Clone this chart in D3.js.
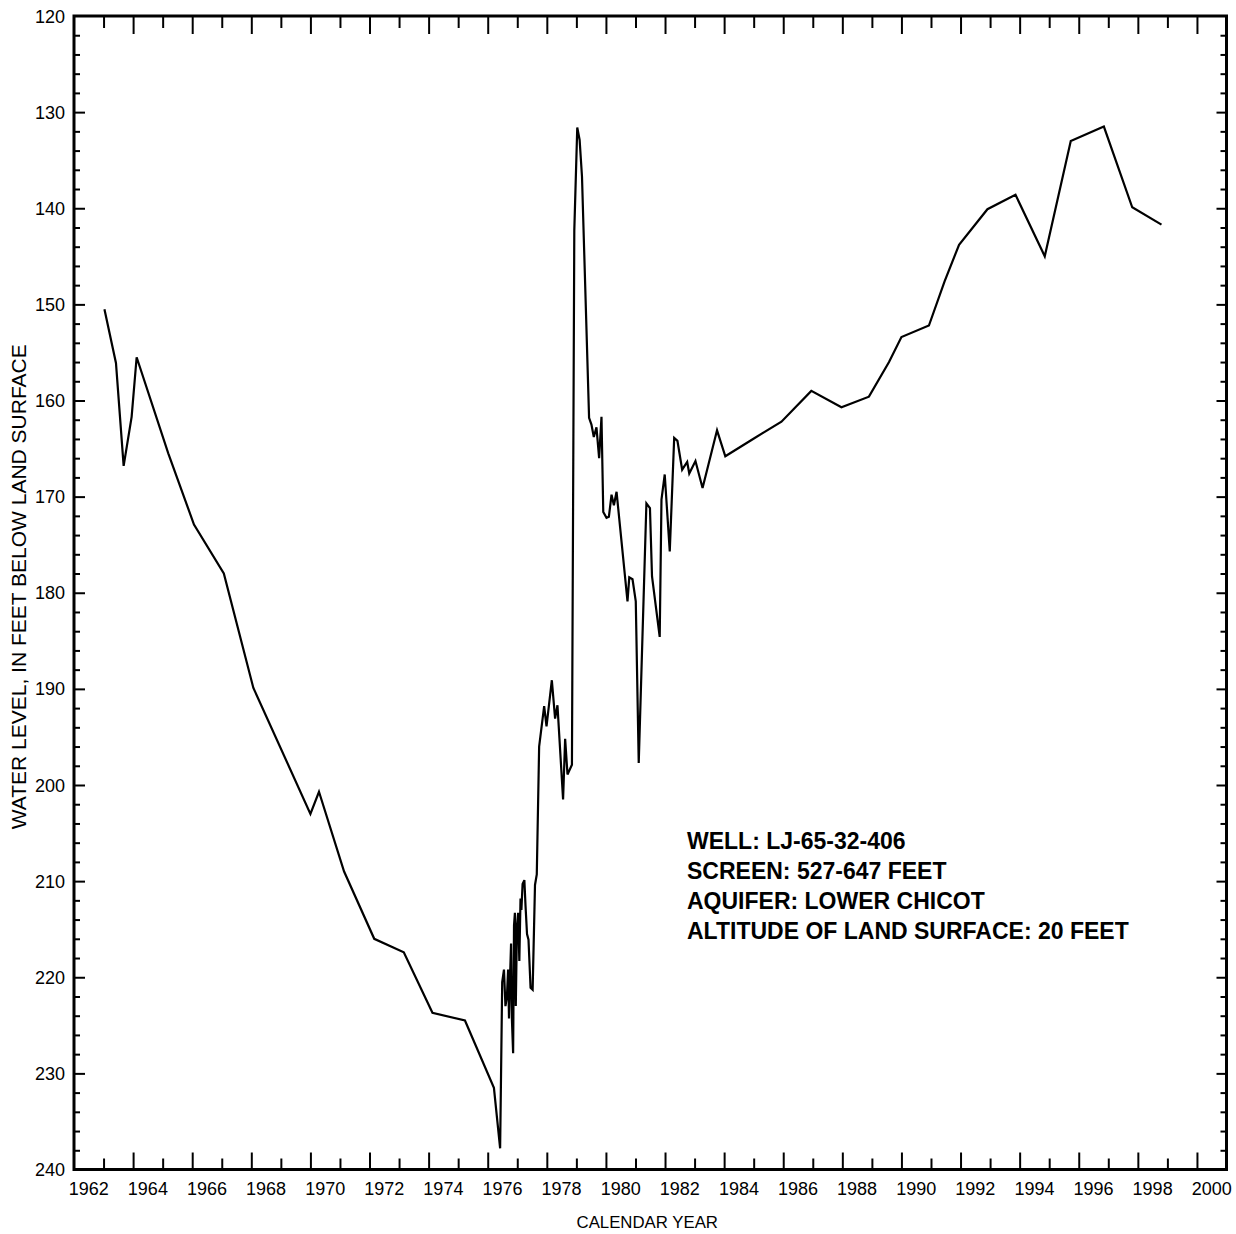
<!DOCTYPE html>
<html>
<head>
<meta charset="utf-8">
<script src="https://cdn.jsdelivr.net/npm/d3@7"></script>
<style>
  body { margin: 0; background: white; }
  text { font-family: "Liberation Sans", Arial, sans-serif; fill: black; }
</style>
</head>
<body>
<script>
// measurement dates (decimal year) and depth to water (feet below land surface)
const years = [
  1963.03, 1963.42, 1963.68, 1963.95, 1964.12, 1965.19, 1966.06, 1967.07, 1968.07,
  1970.00, 1970.29, 1971.14, 1972.16, 1973.16, 1974.13, 1975.23, 1976.21, 1976.42,
  1976.49, 1976.55, 1976.60, 1976.65, 1976.69, 1976.72, 1976.76, 1976.79, 1976.82,
  1976.86, 1976.89, 1976.92, 1976.95, 1976.99, 1977.03, 1977.07, 1977.11, 1977.14,
  1977.18, 1977.24, 1977.28, 1977.33, 1977.38, 1977.45, 1977.52, 1977.60, 1977.66,
  1977.74, 1977.91, 1977.99, 1978.17, 1978.28, 1978.36, 1978.55, 1978.62, 1978.70,
  1978.85, 1978.93, 1979.03, 1979.11, 1979.19, 1979.43, 1979.51, 1979.59, 1979.68,
  1979.77, 1979.85, 1979.91, 1980.02, 1980.10, 1980.19, 1980.27, 1980.36, 1980.73,
  1980.79, 1980.90, 1981.01, 1981.11, 1981.37, 1981.49, 1981.56, 1981.82, 1981.88,
  1981.99, 1982.16, 1982.31, 1982.42, 1982.58, 1982.75, 1982.82, 1983.03, 1983.27,
  1983.76, 1984.04, 1984.98, 1985.94, 1986.95, 1987.97, 1988.90, 1989.58, 1990.00,
  1990.93, 1991.46, 1991.95, 1992.91, 1993.86, 1994.85, 1995.73, 1996.85, 1997.81,
  1998.80
];
const levels = [
  150.5, 156.1, 166.8, 161.7, 155.5, 165.5, 172.9, 178.0, 189.9,
  203.0, 200.7, 209.0, 216.0, 217.4, 223.7, 224.5, 231.5, 237.8,
  220.5, 219.2, 223.0, 222.0, 219.2, 224.3, 219.5, 216.5, 224.5,
  227.9, 214.6, 213.3, 223.0, 214.7, 213.3, 218.3, 211.8, 213.0,
  210.3, 209.9, 212.6, 215.5, 216.1, 221.1, 221.3, 210.4, 209.3,
  196.0, 191.8, 193.9, 189.1, 193.1, 191.7, 201.5, 195.2, 198.9,
  197.9, 142.3, 131.6, 132.9, 136.7, 161.8, 162.5, 163.8, 162.8,
  166.0, 161.7, 171.6, 172.2, 172.1, 169.8, 170.9, 169.5, 180.9,
  178.4, 178.6, 180.9, 197.7, 170.7, 171.2, 178.3, 184.6, 170.3,
  167.7, 175.7, 163.9, 164.2, 167.2, 166.4, 167.6, 166.3, 169.1,
  163.1, 165.8, 164.0, 162.2, 159.0, 160.7, 159.6, 156.0, 153.4,
  152.2, 147.6, 143.8, 140.1, 138.6, 145.0, 133.0, 131.5, 139.9,
  141.7
];

// axis labels
const yearLabels = d3.range(1962, 2001, 2);      // 1962 ... 2000
const levelLabels = d3.range(120, 241, 10);      // 120 ... 240
const infoLines = [
  'WELL: LJ-65-32-406',
  'SCREEN: 527-647 FEET',
  'AQUIFER: LOWER CHICOT',
  'ALTITUDE OF LAND SURFACE: 20 FEET'
];

const svgWidth = 1236;
const svgHeight = 1234;
const margin = { top: 16, right: 9.5, bottom: 64.5, left: 74 };
const width = svgWidth - margin.left - margin.right;
const height = svgHeight - margin.top - margin.bottom;

const xScale = d3.scaleLinear().domain([1962, 2001]).range([0, width]);
const yScale = d3.scaleLinear().domain([120, 240]).range([0, height]); // depth grows downward

const svg = d3.select('body').append('svg')
    .attr('width', svgWidth)
    .attr('height', svgHeight)
    .append('g')
    .attr('transform', `translate(${margin.left},${margin.top})`);

// tick marks point inward on all four sides
const majorYears = d3.range(1964, 2001, 2);
const minorYears = d3.range(1963, 2000, 2);
const majorLevels = d3.range(130, 240, 10);
const minorLevels = d3.range(122, 240, 2).filter(v => v % 10 !== 0);

function inTicks(axisFn, scale, values, size) {
    return axisFn(scale).tickValues(values).tickSize(size).tickFormat('');
}

const tickGroups = [
    { axis: inTicks(d3.axisTop, xScale, majorYears, 17), t: `translate(0,${height})` },
    { axis: inTicks(d3.axisTop, xScale, minorYears, 11), t: `translate(0,${height})` },
    { axis: inTicks(d3.axisBottom, xScale, majorYears, 18), t: 'translate(0,0)' },
    { axis: inTicks(d3.axisBottom, xScale, minorYears, 12), t: 'translate(0,0)' },
    { axis: inTicks(d3.axisRight, yScale, majorLevels, 11), t: 'translate(0,0)' },
    { axis: inTicks(d3.axisRight, yScale, minorLevels, 6), t: 'translate(0,0)' },
    { axis: inTicks(d3.axisLeft, yScale, majorLevels, 10), t: `translate(${width},0)` },
    { axis: inTicks(d3.axisLeft, yScale, minorLevels, 6), t: `translate(${width},0)` }
];
tickGroups.forEach(g => {
    const sel = svg.append('g').attr('transform', g.t).call(g.axis);
    sel.select('.domain').remove();
    sel.selectAll('line').attr('stroke', 'black').attr('stroke-width', 2);
});

// frame
svg.append('rect')
    .attr('x', 0).attr('y', 0)
    .attr('width', width).attr('height', height)
    .attr('fill', 'none')
    .attr('stroke', 'black')
    .attr('stroke-width', 3);

// year labels sit in the middle of the labelled year
svg.selectAll('.year-label')
    .data(yearLabels)
    .enter().append('text')
    .attr('class', 'year-label')
    .attr('x', d => xScale(d + 0.5))
    .attr('y', height + 25)
    .attr('text-anchor', 'middle')
    .style('font-size', '18px')
    .text(d => d);

svg.selectAll('.level-label')
    .data(levelLabels)
    .enter().append('text')
    .attr('class', 'level-label')
    .attr('x', -9)
    .attr('y', d => yScale(d) + 6.5)
    .attr('text-anchor', 'end')
    .style('font-size', '18px')
    .text(d => d);

// axis titles
svg.append('text')
    .attr('x', width / 2 - 3)
    .attr('y', height + 58)
    .attr('text-anchor', 'middle')
    .style('font-size', '16.8px')
    .text('CALENDAR YEAR');

svg.append('text')
    .attr('transform', `translate(${-48},${height / 2 - 6}) rotate(-90)`)
    .attr('text-anchor', 'middle')
    .style('font-size', '21px')
    .text('WATER LEVEL, IN FEET BELOW LAND SURFACE');

// hydrograph
const line = d3.line()
    .x((d, i) => xScale(years[i]))
    .y(d => yScale(d));

svg.append('path')
    .datum(levels)
    .attr('fill', 'none')
    .attr('stroke', 'black')
    .attr('stroke-width', 2.2)
    .attr('stroke-linejoin', 'miter')
    .attr('d', line);

// well description
svg.selectAll('.info')
    .data(infoLines)
    .enter().append('text')
    .attr('class', 'info')
    .attr('x', 687 - margin.left)
    .attr('y', (d, i) => 849 - margin.top + i * 30)
    .style('font-size', '23px')
    .style('font-weight', 'bold')
    .text(d => d);
</script>
</body>
</html>
